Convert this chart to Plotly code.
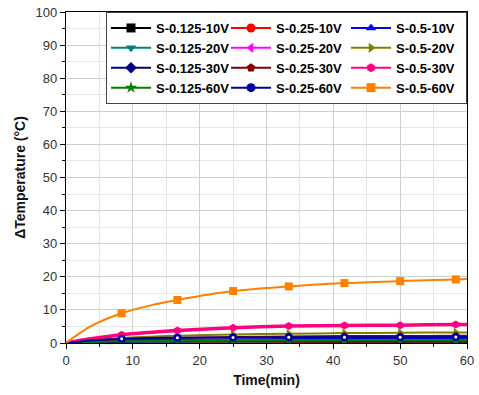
import plotly.graph_objects as go

t = [0, 2, 4, 8.33, 12.5, 16.67, 25, 33.33, 41.67, 50, 58.33, 60]
marker_idx = [3, 5, 6, 7, 8, 9, 10]

names = ["S-0.125-10V", "S-0.25-10V", "S-0.5-10V",
         "S-0.125-20V", "S-0.25-20V", "S-0.5-20V",
         "S-0.125-30V", "S-0.25-30V", "S-0.5-30V",
         "S-0.125-60V", "S-0.25-60V", "S-0.5-60V"]

s_0125_10 = [0, 0.05, 0.1, 0.15, 0.2, 0.2, 0.25, 0.25, 0.3, 0.3, 0.3, 0.3]
s_025_10 = [0, 0.1, 0.15, 0.25, 0.3, 0.35, 0.4, 0.4, 0.45, 0.45, 0.45, 0.45]
s_05_10 = [0, 0.2, 0.4, 0.7, 0.9, 1.0, 1.1, 1.2, 1.2, 1.25, 1.3, 1.3]
s_0125_20 = [0, 0.1, 0.15, 0.3, 0.35, 0.4, 0.45, 0.5, 0.5, 0.5, 0.5, 0.5]
s_025_20 = [0, 0.15, 0.3, 0.5, 0.6, 0.7, 0.8, 0.85, 0.85, 0.9, 0.9, 0.9]
s_05_20 = [0, 0.5, 0.9, 1.5, 1.9, 2.2, 2.6, 2.8, 3.0, 3.1, 3.2, 3.2]
s_0125_30 = [0, 0.1, 0.2, 0.4, 0.5, 0.55, 0.6, 0.65, 0.65, 0.7, 0.7, 0.7]
s_025_30 = [0, 0.3, 0.6, 1.0, 1.3, 1.5, 1.8, 2.0, 2.1, 2.1, 2.2, 2.2]
s_05_30 = [0, 0.8, 1.4, 2.5, 3.2, 3.8, 4.6, 5.1, 5.3, 5.4, 5.6, 5.6]
s_0125_60 = [0, 0.15, 0.3, 0.5, 0.6, 0.65, 0.7, 0.75, 0.8, 0.8, 0.8, 0.8]
s_025_60 = [0, 0.4, 0.8, 1.3, 1.5, 1.6, 1.65, 1.7, 1.7, 1.75, 1.8, 1.8]
s_05_60 = [0, 2.9, 5.4, 9.0, 11.3, 13.0, 15.7, 17.1, 18.1, 18.7, 19.2, 19.3]

series = [s_0125_10, s_025_10, s_05_10, s_0125_20, s_025_20, s_05_20,
          s_0125_30, s_025_30, s_05_30, s_0125_60, s_025_60, s_05_60]

colors = ["#000000", "#FF0000", "#0000FF",
          "#008080", "#FF00FF", "#808000",
          "#000080", "#800000", "#FF0080",
          "#008000", "#0000A0", "#FF8000"]
symbols = ["square", "circle", "triangle-up",
           "triangle-down", "triangle-left", "triangle-right",
           "diamond", "pentagon", "hexagon",
           "star", "circle", "square"]
widths = [2, 2, 2, 2, 2, 2, 2, 2, 3.5, 2, 2, 2]

fig = go.Figure()
for name, y, c, sym, w in zip(names, series, colors, symbols, widths):
    mx = [t[i] for i in marker_idx]
    my = [y[i] for i in marker_idx]
    fig.add_trace(go.Scatter(
        x=t, y=y, name=name, legendgroup=name, showlegend=False, mode="lines",
        line=dict(color=c, width=w, shape="spline", smoothing=0.8),
        hoverinfo="skip",
    ))
    fig.add_trace(go.Scatter(
        x=mx, y=my, name=name, legendgroup=name, showlegend=False, mode="markers",
        marker=dict(symbol=sym, size=8, color=c, line=dict(width=0)),
    ))
    if name == "S-0.25-60V":
        fig.add_trace(go.Scatter(
            x=mx, y=my, legendgroup=name, showlegend=False, mode="markers",
            marker=dict(symbol="circle", size=3, color="white", line=dict(width=0)),
            hoverinfo="skip",
        ))
    fig.add_trace(go.Scatter(
        x=[None], y=[None], name=name, legendgroup=name, showlegend=True,
        mode="lines+markers",
        line=dict(color=c, width=2),
        marker=dict(symbol=sym, size=9, color=c, line=dict(width=0)),
    ))

fig.update_layout(
    width=479, height=395,
    margin=dict(l=66, r=5, t=12, b=52),
    paper_bgcolor="white", plot_bgcolor="white",
    font=dict(family="Liberation Sans, Arial, sans-serif", size=13, color="#333333"),
    showlegend=True,
    legend=dict(
        orientation="h", x=1, xanchor="right", y=1, yanchor="top",
        bgcolor="white", bordercolor="#444444", borderwidth=1,
        font=dict(size=13, color="#000000", family="Liberation Sans, Arial, sans-serif", weight="bold"),
        entrywidth=65, itemwidth=40, tracegroupgap=0,
    ),
)
fig.update_xaxes(
    range=[0, 60], dtick=10, tick0=0,
    showline=True, linecolor="black", linewidth=1.2, mirror=True,
    ticks="outside", ticklen=5, tickcolor="black",
    showgrid=True, gridcolor="#cfcfcf", gridwidth=1,
    minor=dict(dtick=5, showgrid=True, gridcolor="#e6e6e6", ticks="outside", ticklen=3, tickcolor="black"),
    zeroline=False, ticklabeloverflow="allow",
    title=dict(text="<b>Time(min)</b>", font=dict(size=14, color="#111111"), standoff=8),
    tickfont=dict(size=13, color="#333333"),
)
fig.update_yaxes(
    range=[0, 100], dtick=10, tick0=0,
    showline=True, linecolor="black", linewidth=1.2, mirror=True,
    ticks="outside", ticklen=5, tickcolor="black",
    showgrid=True, gridcolor="#cfcfcf", gridwidth=1,
    minor=dict(dtick=5, showgrid=True, gridcolor="#e6e6e6", ticks="outside", ticklen=3, tickcolor="black"),
    zeroline=False,
    title=dict(text="<b>ΔTemperature (°C)</b>", font=dict(size=14, color="#111111"), standoff=6),
    tickfont=dict(size=13, color="#333333"),
)

fig.write_html("out.html")
